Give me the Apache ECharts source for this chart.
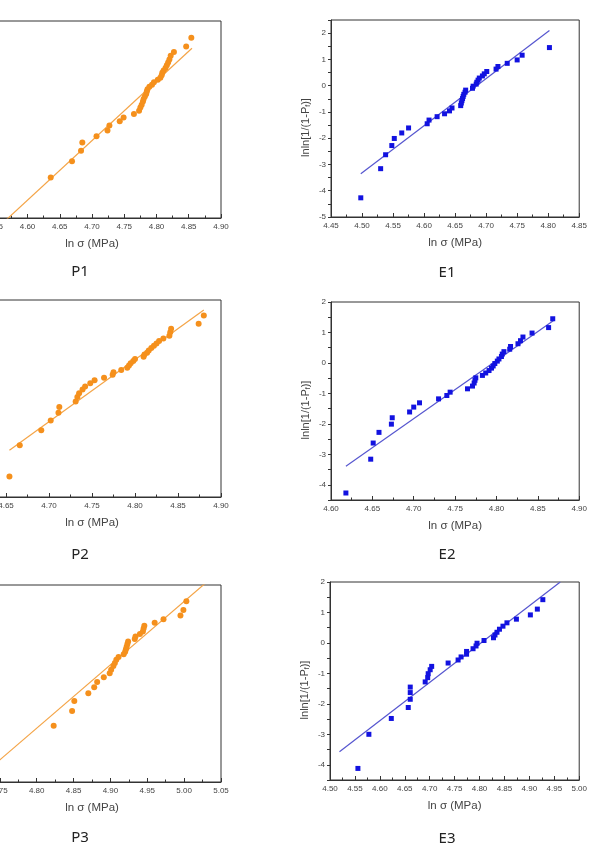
<!DOCTYPE html>
<html><head><meta charset="utf-8">
<script src="https://cdn.jsdelivr.net/npm/echarts@6/dist/echarts.min.js"></script>
<style>html,body{margin:0;padding:0;background:#fff;overflow:hidden;width:590px;height:862px;position:relative}
#c{position:absolute;left:-80px;top:0;width:670px;height:862px}</style>
</head><body><div id="c"></div>
<script>
// ---------- DATA ----------
const panelNames = ['P1', 'E1', 'P2', 'E2', 'P3', 'E3'];
const xAxisMin = [4.50, 4.45, 4.60, 4.60, 4.70, 4.50];
const xAxisMax = [4.90, 4.85, 4.90, 4.90, 5.05, 5.00];
const yAxisMin = [-4.5, -5, -5, -4.5, -5, -4.5];
const yAxisMax = [2, 2.5, 2, 2, 2, 2];

// lnln[1/(1-Pf)] values (36 specimens)
const yRank36 = [-4.27, -3.16, -2.63, -2.28, -2.01, -1.80, -1.61, -1.45, -1.31, -1.18, -1.07, -0.96,
  -0.85, -0.76, -0.66, -0.57, -0.49, -0.41, -0.33, -0.25, -0.17, -0.10, -0.02, 0.06,
  0.13, 0.21, 0.29, 0.37, 0.45, 0.54, 0.63, 0.73, 0.85, 0.98, 1.16, 1.45];
// lnln[1/(1-Pf)] values (31 specimens)
const yRank31 = [-4.12, -3.00, -2.48, -2.12, -1.85, -1.63, -1.45, -1.28, -1.14, -1.01, -0.88,
  -0.77, -0.66, -0.56, -0.46, -0.37, -0.28, -0.19, -0.10, -0.01, 0.08, 0.17, 0.26,
  0.35, 0.45, 0.55, 0.66, 0.78, 0.92, 1.11, 1.42];

const p1Sigma = [4.540, 4.636, 4.669, 4.683, 4.685, 4.707, 4.724, 4.727, 4.743, 4.749, 4.765, 4.773,
  4.775, 4.777, 4.779, 4.780, 4.782, 4.784, 4.785, 4.786, 4.789, 4.793, 4.796, 4.802,
  4.806, 4.808, 4.809, 4.811, 4.814, 4.816, 4.818, 4.820, 4.822, 4.827, 4.846, 4.854];
const e1Sigma = [4.498, 4.530, 4.538, 4.548, 4.552, 4.564, 4.575, 4.605, 4.608, 4.621, 4.633, 4.641,
  4.645, 4.659, 4.660, 4.661, 4.662, 4.663, 4.664, 4.666, 4.667, 4.678, 4.679, 4.684,
  4.685, 4.687, 4.689, 4.694, 4.697, 4.701, 4.716, 4.719, 4.734, 4.750, 4.758, 4.802];
const p2Sigma = [4.654, 4.666, 4.691, 4.702, 4.711, 4.712, 4.731, 4.733, 4.735, 4.739, 4.742, 4.748,
  4.753, 4.764, 4.774, 4.775, 4.784, 4.791, 4.793, 4.795, 4.798, 4.800, 4.810, 4.811,
  4.814, 4.816, 4.819, 4.822, 4.825, 4.828, 4.833, 4.840, 4.841, 4.842, 4.874, 4.880];
const e2Sigma = [4.618, 4.648, 4.651, 4.658, 4.673, 4.674, 4.695, 4.700, 4.707, 4.730, 4.740, 4.744,
  4.765, 4.771, 4.773, 4.774, 4.775, 4.783, 4.787, 4.791, 4.794, 4.796, 4.798, 4.801,
  4.803, 4.806, 4.807, 4.809, 4.816, 4.817, 4.826, 4.829, 4.832, 4.843, 4.863, 4.868];
const p3Sigma = [4.730, 4.823, 4.848, 4.851, 4.870, 4.878, 4.882, 4.891, 4.899, 4.901, 4.904,
  4.906, 4.908, 4.911, 4.918, 4.920, 4.921, 4.922, 4.923, 4.924, 4.933, 4.934, 4.940,
  4.944, 4.945, 4.946, 4.960, 4.972, 4.995, 4.999, 5.003];
const e3Sigma = [4.556, 4.578, 4.623, 4.657, 4.661, 4.661, 4.661, 4.691, 4.696, 4.697, 4.701,
  4.704, 4.737, 4.757, 4.763, 4.774, 4.774, 4.787, 4.793, 4.795, 4.809, 4.828, 4.831,
  4.835, 4.840, 4.847, 4.855, 4.874, 4.902, 4.916, 4.927];

// fitted lines: [start, end] as [ln sigma, lnln]
const p1Fit = [[4.535, -5.19], [4.855, 1.10]];
const e1Fit = [[4.498, -3.35], [4.802, 2.10]];
const p2Fit = [[4.654, -3.34], [4.880, 1.645]];
const e2Fit = [[4.618, -3.39], [4.869, 1.39]];
const p3Fit = [[4.720, -4.89], [5.030, 2.09]];
const e3Fit = [[4.519, -3.57], [4.962, 2.00]];

const panelSigma = [p1Sigma, e1Sigma, p2Sigma, e2Sigma, p3Sigma, e3Sigma];
const panelY = [yRank36, yRank36, yRank36, yRank36, yRank31, yRank31];
const panelFit = [p1Fit, e1Fit, p2Fit, e2Fit, p3Fit, e3Fit];

// ---------- LAYOUT / STYLE ----------
const SHIFT = 80; // canvas starts 80px left of the page
const grids = [
  {left: -37, top: 21, width: 258, height: 197},
  {left: 331, top: 20, width: 258, height: 197},
  {left: -37, top: 300, width: 258, height: 197},
  {left: 331, top: 302, width: 257, height: 198},
  {left: -37, top: 585, width: 258, height: 197},
  {left: 330, top: 582, width: 257, height: 198}
];
const captionPos = [[80, 272], [447, 273], [80, 555], [447, 555], [80, 838], [447, 839]];
const isP = [true, false, true, false, true, false];
const FONT = '"Liberation Sans", Arial, sans-serif';
const axisCol = '#333';
const labelCol = '#444';

const option = {
  animation: false,
  backgroundColor: '#fff',
  textStyle: {fontFamily: FONT},
  grid: grids.map(g => ({show: true, borderColor: axisCol, borderWidth: 1, containLabel: false,
    left: g.left + SHIFT, top: g.top, width: g.width, height: g.height})),
  xAxis: panelNames.map((n, i) => ({
    type: 'value', gridIndex: i, min: xAxisMin[i], max: xAxisMax[i], interval: 0.05,
    name: 'ln σ (MPa)', nameLocation: 'middle', nameGap: 20,
    nameTextStyle: {fontSize: 11.5, color: labelCol, fontFamily: FONT},
    axisLine: {show: true, onZero: false, lineStyle: {color: axisCol, width: 1}},
    axisTick: {show: true, inside: true, length: 4, lineStyle: {color: axisCol}},
    minorTick: {show: true, splitNumber: 2, length: 2.5, lineStyle: {color: axisCol}},
    axisLabel: {fontSize: 8, color: labelCol, margin: 5, formatter: v => v.toFixed(2)},
    splitLine: {show: false}
  })),
  yAxis: panelNames.map((n, i) => ({
    type: 'value', gridIndex: i, min: yAxisMin[i], max: yAxisMax[i], interval: 0.5,
    name: 'lnln[1/(1-P{sub|f})]', nameLocation: 'middle', nameGap: 19,
    nameTextStyle: {fontSize: 11, color: labelCol, fontFamily: FONT, padding: [0, 18, 0, 0],
      rich: {sub: {fontSize: 7, color: labelCol, verticalAlign: 'bottom', padding: [5, 0, 0, 0]}}},
    axisLine: {show: true, onZero: false, lineStyle: {color: axisCol, width: 1}},
    axisTick: {show: true, inside: false, length: 3, lineStyle: {color: axisCol}},
    axisLabel: {fontSize: 8, color: labelCol, margin: 5,
      formatter: v => Math.abs(v - Math.round(v)) < 1e-6 ? String(Math.round(v)) : ''},
    splitLine: {show: false}
  })),
  series: [],
  graphic: panelNames.map((n, i) => ({
    type: 'text', x: captionPos[i][0] + SHIFT, y: captionPos[i][1],
    style: {text: n, fill: '#222', font: '15px "Noto Sans", sans-serif', textAlign: 'center', textVerticalAlign: 'middle'}
  }))
};

panelNames.forEach((n, i) => {
  const pts = panelSigma[i].map((x, k) => [x, panelY[i][k]]);
  option.series.push({
    type: 'line', xAxisIndex: i, yAxisIndex: i, data: panelFit[i], symbol: 'none', clip: true,
    lineStyle: {color: isP[i] ? '#f4a447' : '#5656cf', width: 1.2}, z: 2
  });
  option.series.push({
    type: 'scatter', xAxisIndex: i, yAxisIndex: i, data: pts,
    symbol: isP[i] ? 'circle' : 'rect', symbolSize: isP[i] ? 6 : 5,
    itemStyle: {color: isP[i] ? '#f5901c' : '#1212e0', opacity: 1}, z: 3
  });
});

const chart = echarts.init(document.getElementById('c'), null, {renderer: 'canvas'});
chart.setOption(option);
</script></body></html>
